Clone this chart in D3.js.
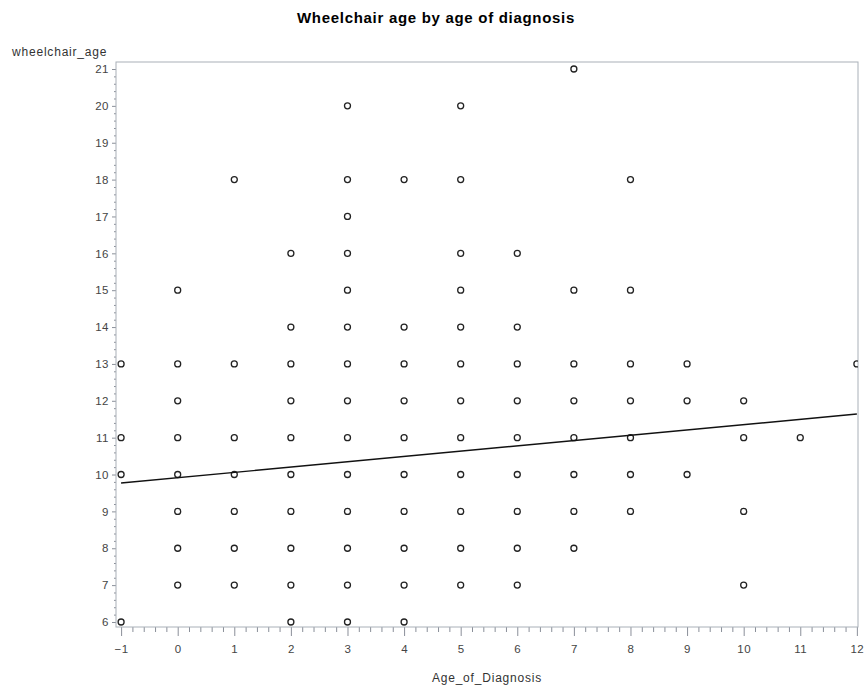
<!DOCTYPE html>
<html>
<head>
<meta charset="utf-8">
<script src="https://cdn.jsdelivr.net/npm/d3@7"></script>
<style>
  body { margin: 0; background: #fff; }
  text { font-family: "Liberation Sans", Arial, sans-serif; }
</style>
</head>
<body>
<div id="chart"></div>
<script>
// Age of diagnosis / wheelchair age pairs
const diagnosisAge = [
  -1, -1, -1, -1,
  0, 0, 0, 0, 0, 0, 0, 0,
  1, 1, 1, 1, 1, 1, 1,
  2, 2, 2, 2, 2, 2, 2, 2, 2, 2,
  3, 3, 3, 3, 3, 3, 3, 3, 3, 3, 3, 3, 3, 3,
  4, 4, 4, 4, 4, 4, 4, 4, 4, 4,
  5, 5, 5, 5, 5, 5, 5, 5, 5, 5, 5, 5,
  6, 6, 6, 6, 6, 6, 6, 6, 6,
  7, 7, 7, 7, 7, 7, 7, 7,
  8, 8, 8, 8, 8, 8, 8,
  9, 9, 9,
  10, 10, 10, 10,
  11,
  12
];
const wheelchairAge = [
  13, 11, 10, 6,
  15, 13, 12, 11, 10, 9, 8, 7,
  18, 13, 11, 10, 9, 8, 7,
  16, 14, 13, 12, 11, 10, 9, 8, 7, 6,
  20, 18, 17, 16, 15, 14, 13, 12, 11, 10, 9, 8, 7, 6,
  18, 14, 13, 12, 11, 10, 9, 8, 7, 6,
  20, 18, 16, 15, 14, 13, 12, 11, 10, 9, 8, 7,
  16, 14, 13, 12, 11, 10, 9, 8, 7,
  21, 15, 13, 12, 11, 10, 9, 8,
  18, 15, 13, 12, 11, 10, 9,
  13, 12, 10,
  12, 11, 9, 7,
  11,
  13
];
// fitted regression line end points
const fitX = [-1, 12];
const fitY = [9.77, 11.64];

const xTicks = d3.range(-1, 13);
const yTicks = d3.range(6, 22);

const width = 866, height = 698;
const plot = { left: 116, right: 858, top: 62, bottom: 627 };

const svg = d3.select("#chart").append("svg")
  .attr("width", width)
  .attr("height", height);

const x = d3.scaleLinear().domain([-1.09, 12.02]).range([plot.left, plot.right]);
const y = d3.scaleLinear().domain([5.864, 21.19]).range([plot.bottom, plot.top]);

// Title
svg.append("text")
  .attr("x", 436)
  .attr("y", 23)
  .attr("text-anchor", "middle")
  .style("font-size", "15px")
  .style("font-weight", "bold")
  .style("letter-spacing", "0.7px")
  .text("Wheelchair age by age of diagnosis");

// clip for marks
svg.append("clipPath").attr("id", "clip")
  .append("rect")
  .attr("x", plot.left).attr("y", plot.top)
  .attr("width", plot.right - plot.left)
  .attr("height", plot.bottom - plot.top);

// Bottom axis: minor then major ticks
const minorX = d3.range(-1, 12.001, 0.2).filter(v => Math.abs(v - Math.round(v)) > 0.01);
svg.append("g")
  .attr("class", "x-minor")
  .attr("transform", "translate(0," + plot.bottom + ")")
  .call(d3.axisBottom(x).tickValues(minorX).tickSize(5).tickFormat(""))
  .call(g => g.select(".domain").remove());

svg.append("g")
  .attr("class", "x-major")
  .attr("transform", "translate(0," + plot.bottom + ")")
  .call(d3.axisBottom(x).tickValues(xTicks).tickSize(9).tickPadding(9).tickFormat(d3.format("d")))
  .call(g => g.select(".domain").remove());

// Left axis
const minorY = d3.range(6, 21.001, 0.2).filter(v => Math.abs(v - Math.round(v)) > 0.01);
svg.append("g")
  .attr("class", "y-minor")
  .attr("transform", "translate(" + plot.left + ",0)")
  .call(d3.axisLeft(y).tickValues(minorY).tickSize(2).tickFormat(""))
  .call(g => g.select(".domain").remove());

svg.append("g")
  .attr("class", "y-major")
  .attr("transform", "translate(" + plot.left + ",0)")
  .call(d3.axisLeft(y).tickValues(yTicks).tickSize(4).tickPadding(3).tickFormat(d3.format("d")))
  .call(g => g.select(".domain").remove());

svg.selectAll(".tick line").attr("stroke", "#8a8f99");
svg.selectAll(".tick text")
  .attr("fill", "#444")
  .style("font-size", "11.5px")
  .style("letter-spacing", "0.5px")
  .style("font-family", "'Liberation Sans', Arial, sans-serif");

// Frame
svg.append("rect")
  .attr("x", plot.left).attr("y", plot.top)
  .attr("width", plot.right - plot.left)
  .attr("height", plot.bottom - plot.top)
  .attr("fill", "none")
  .attr("stroke", "#a9b0b8")
  .attr("stroke-width", 1);

// Axis titles
svg.append("text")
  .attr("x", 12)
  .attr("y", 56)
  .attr("fill", "#333")
  .style("font-size", "12px")
  .style("letter-spacing", "0.8px")
  .text("wheelchair_age");

svg.append("text")
  .attr("x", (plot.left + plot.right) / 2)
  .attr("y", 682)
  .attr("text-anchor", "middle")
  .attr("fill", "#333")
  .style("font-size", "12px")
  .style("letter-spacing", "0.8px")
  .text("Age_of_Diagnosis");

// Marks
const marks = svg.append("g").attr("clip-path", "url(#clip)");

const points = diagnosisAge.map((d, i) => ({ x: d, y: wheelchairAge[i] }));
marks.selectAll(".point")
  .data(points)
  .enter()
  .append("circle")
  .attr("class", "point")
  .attr("cx", d => x(d.x))
  .attr("cy", d => y(d.y))
  .attr("r", 3)
  .attr("fill", "none")
  .attr("stroke", "#222")
  .attr("stroke-width", 1.3);

const fit = fitX.map((d, i) => ({ x: d, y: fitY[i] }));
marks.append("path")
  .datum(fit)
  .attr("fill", "none")
  .attr("stroke", "#111")
  .attr("stroke-width", 1.4)
  .attr("d", d3.line().x(d => x(d.x)).y(d => y(d.y)));
</script>
</body>
</html>
